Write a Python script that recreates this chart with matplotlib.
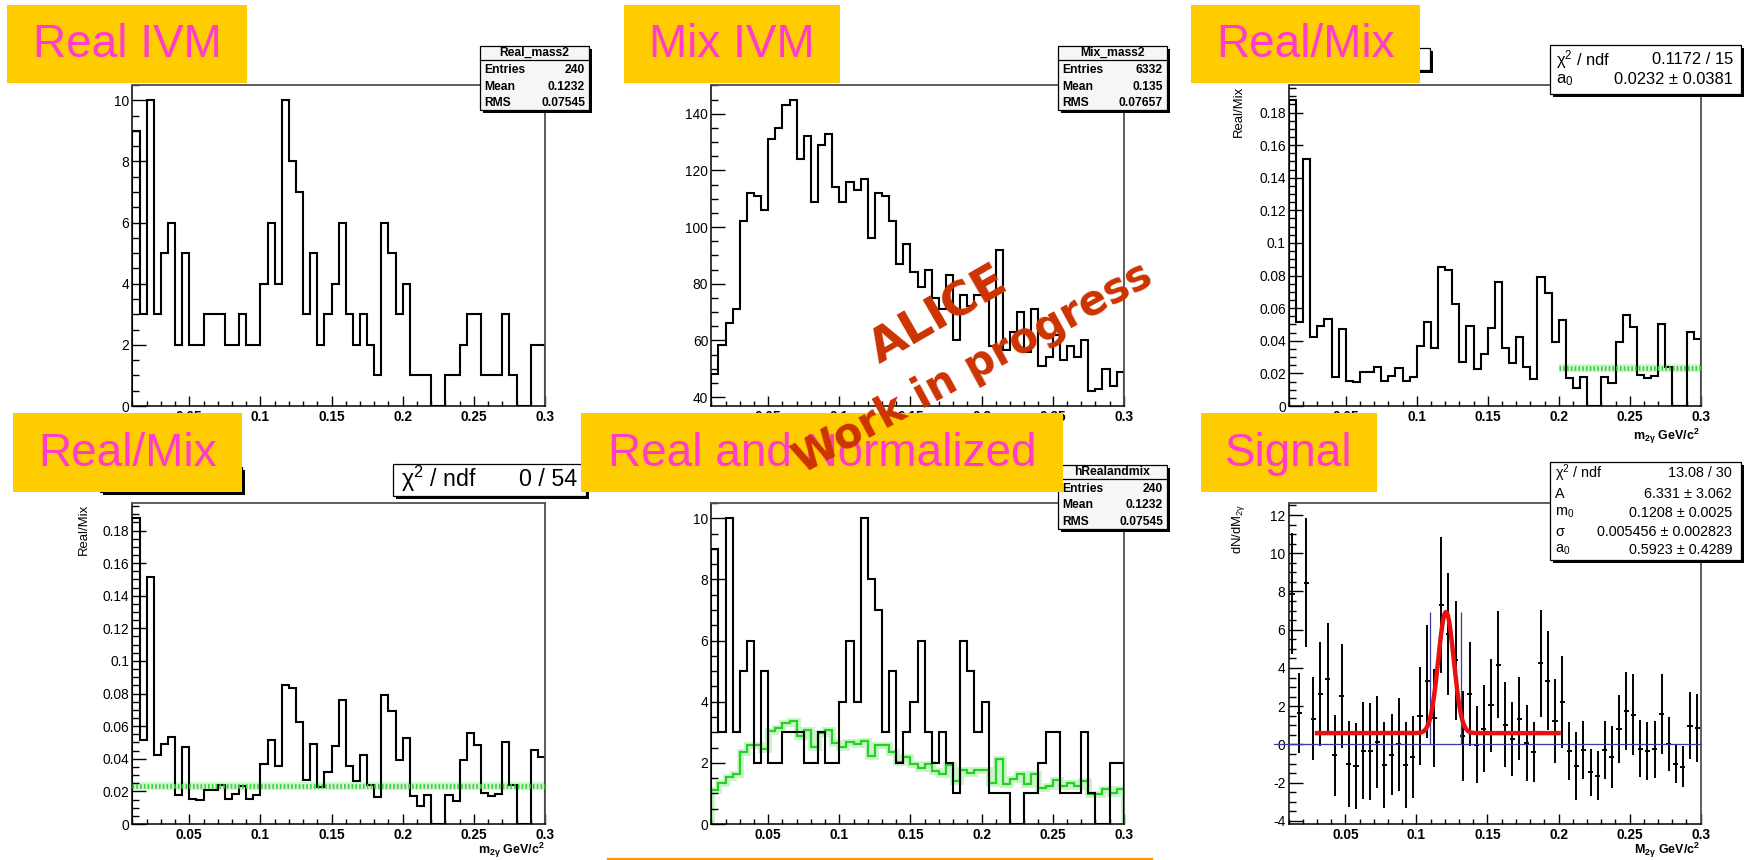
import numpy as np
import matplotlib
matplotlib.use("Agg")
import matplotlib.pyplot as plt
from matplotlib.patches import Rectangle
from matplotlib import font_manager
from matplotlib.ticker import FixedLocator, MultipleLocator, FuncFormatter

# ---------------------------------------------------------------------------
# Two-photon invariant mass, 0.005 GeV/c^2 bins starting at 0.01 GeV/c^2
# ---------------------------------------------------------------------------
bin_start = 0.01
bin_width = 0.005

real_counts = [9, 3, 10, 3, 5, 6, 2, 5, 2, 2,
               3, 3, 3, 2, 2, 3, 2, 2, 4, 6,
               4, 10, 8, 7, 3, 5, 2, 3, 4, 6,
               3, 2, 3, 2, 1, 6, 5, 3, 4, 1,
               1, 1, 0, 0, 1, 1, 2, 3, 3, 1,
               1, 1, 3, 1, 0, 0, 2, 2]

mix_counts = [48, 58.5, 66, 71, 102, 112, 111, 106, 131, 135,
              143, 145, 124, 132, 109, 129, 133, 114, 109, 116,
              113, 117, 96, 112, 111, 102, 87, 94, 84, 79,
              85, 75, 71, 83, 60, 76, 72, 76, 76, 58,
              92, 56.5, 63, 70, 56, 71, 51, 54, 62, 53,
              58, 54, 60, 42, 43, 50, 44, 49]

# histogram statistics boxes: name, entries, mean, rms
real_stats = ("Real_mass2", 240, 0.1232, 0.07545)
mix_stats = ("Mix_mass2", 6332, 0.135, 0.07657)
norm_stats = ("hRealandmix", 240, 0.1232, 0.07545)

# constant fit to Real/Mix (normalisation factor)
norm_a0, norm_a0_err = 0.0232, 0.0381
norm_chi2, norm_ndf = 0.1172, 15
norm_fit_range = (0.2, 0.3)
full_chi2, full_ndf = 0, 54

# Gaussian + constant fit of the subtracted signal
sig_chi2, sig_ndf = 13.08, 30
sig_A, sig_A_err = 6.331, 3.062
sig_m0, sig_m0_err = 0.1208, 0.0025
sig_sigma, sig_sigma_err = 0.005456, 0.002823
sig_a0, sig_a0_err = 0.5923, 0.4289
sig_fit_range = (0.03, 0.2)

panel_titles = ["Real IVM", "Mix IVM", "Real/Mix",
                "Real/Mix", "Real and Normalized", "Signal"]

# ---------------------------------------------------------------------------
real = np.array(real_counts, dtype=float)
mix = np.array(mix_counts, dtype=float)
edges = bin_start + bin_width * np.arange(len(real) + 1)
centers = 0.5 * (edges[:-1] + edges[1:])
ratio = real / mix
normalized = mix * norm_a0
signal = real - normalized
signal_err = np.sqrt(real + normalized)

# ---------------------------------------------------------------------------
available = {f.name for f in font_manager.fontManager.ttflist}
if "Liberation Sans Narrow" in available:
    ROOT_FONT, NARROW = "Liberation Sans Narrow", 1.0
else:
    ROOT_FONT, NARROW = "Liberation Sans", 0.86


def fs(pt):
    return pt * NARROW


plt.rcParams.update({
    "font.family": [ROOT_FONT, "DejaVu Sans"],
    "mathtext.fontset": "custom",
    "mathtext.rm": ROOT_FONT,
    "mathtext.it": ROOT_FONT + ":italic",
    "mathtext.bf": ROOT_FONT + ":bold",
    "mathtext.default": "regular",
    "mathtext.fallback": "stixsans",
})

W, H, DPI = 1744, 860, 100
fig = plt.figure(figsize=(W / DPI, H / DPI), dpi=DPI)
fig.patch.set_facecolor("white")


def px_axes(l, t, r, b):
    return fig.add_axes([l / W, 1 - b / H, (r - l) / W, (b - t) / H])


def tick_fmt(v, _pos):
    return f"{round(v, 6) + 0.0:g}"


x_major = [0.05, 0.1, 0.15, 0.2, 0.25, 0.3]
x_minor = np.round(np.arange(0.01, 0.3001, 0.01), 3)
TICK_SIZE = 11.5


def style_axes(ax, ylim, ymajor, yminor):
    ax.set_xlim(edges[0], edges[-1])
    ax.set_ylim(*ylim)
    ax.xaxis.set_major_locator(FixedLocator(x_major))
    ax.xaxis.set_minor_locator(FixedLocator(x_minor))
    ax.xaxis.set_major_formatter(FuncFormatter(tick_fmt))
    ax.yaxis.set_major_locator(MultipleLocator(ymajor))
    ax.yaxis.set_minor_locator(MultipleLocator(yminor))
    ax.yaxis.set_major_formatter(FuncFormatter(tick_fmt))
    ax.tick_params(axis="both", which="both", direction="in",
                   top=False, right=False, width=1.0, colors="black")
    ax.tick_params(axis="x", which="major", length=7, pad=3.0,
                   labelsize=fs(TICK_SIZE))
    ax.tick_params(axis="x", which="minor", length=3.4)
    ax.tick_params(axis="y", which="major", length=9.8, pad=2.2,
                   labelsize=fs(TICK_SIZE))
    ax.tick_params(axis="y", which="minor", length=5.2)
    for s in ("left", "bottom"):
        ax.spines[s].set_color("black")
        ax.spines[s].set_linewidth(1.1)
    for s in ("top", "right"):
        ax.spines[s].set_color("#505050")
        ax.spines[s].set_linewidth(1.3)
    for lab in ax.get_xticklabels():
        lab.set_fontweight("bold")


HIST_LW = 1.5

# --- Real IVM ---------------------------------------------------------------
ax1 = px_axes(132.4, 85, 545, 406)
ax1.stairs(real, edges, color="black", lw=HIST_LW)
style_axes(ax1, (0, 1.05 * real.max()), 2, 0.5)

# --- Mix IVM ----------------------------------------------------------------
ax2 = px_axes(711.3, 85, 1123.8, 406)
ax2.stairs(mix, edges, color="black", lw=HIST_LW)
span = mix.max() - mix.min()
style_axes(ax2, (mix.min() - 0.05 * span, mix.max() + 0.05 * span), 20, 5)

# --- Real/Mix with the fit restricted to the high-mass side -----------------
ratio_ylim = (0, 1.05 * ratio.max())


def green_dotted(ax, x0, x1, y):
    ax.plot([x0, x1], [y, y], color="#d6f5d6", lw=6, solid_capstyle="butt",
            zorder=1)
    ax.plot([x0, x1], [y, y], color="#3ccf3c", lw=3.4,
            linestyle=(0, (0.35, 0.45)), dash_capstyle="butt", zorder=3)


ax3 = px_axes(1288.9, 85, 1700.7, 406)
ax3.stairs(ratio, edges, color="black", lw=HIST_LW, zorder=2)
green_dotted(ax3, norm_fit_range[0], norm_fit_range[1], norm_a0)
style_axes(ax3, ratio_ylim, 0.02, 0.005)

# --- Real/Mix over the full range -------------------------------------------
ax4 = px_axes(132.4, 503, 545, 824)
ax4.stairs(ratio, edges, color="black", lw=HIST_LW, zorder=2)
green_dotted(ax4, edges[0], edges[-1], norm_a0)
style_axes(ax4, ratio_ylim, 0.02, 0.005)

# --- Real and normalised mixed ----------------------------------------------
ax5 = px_axes(711.3, 503, 1123.8, 824)
ax5.stairs(real, edges, color="black", lw=HIST_LW, zorder=3)
ax5.stairs(normalized, edges, color="#bff2bf", lw=5, alpha=0.8, zorder=1)
ax5.stairs(normalized, edges, color="#22d422", lw=1.6, zorder=2)
style_axes(ax5, (0, 1.05 * real.max()), 2, 0.5)

# --- Signal after subtraction -----------------------------------------------
ax6 = px_axes(1288.5, 503, 1700.7, 824)
ax6.errorbar(centers, signal, yerr=signal_err, xerr=0.0018, fmt="none",
             ecolor="black", elinewidth=1.4, capsize=0, zorder=2)
ax6.plot([0.0, edges[-1]], [0, 0], color="#3a3aa6", lw=0.9, clip_on=False,
         zorder=3)
ax6.vlines([sig_m0 - 2 * sig_sigma, sig_m0 + 2 * sig_sigma], 0,
           sig_A + sig_a0, color="#3a3aa6", lw=0.9, zorder=3)
xf = np.linspace(sig_fit_range[0], sig_fit_range[1], 500)
yf = sig_a0 + sig_A * np.exp(-0.5 * ((xf - sig_m0) / sig_sigma) ** 2)
ax6.plot(xf, yf, color="#e81010", lw=3.2, zorder=4)
lo = (signal - signal_err).min()
hi = (signal + signal_err).max()
style_axes(ax6, (lo - 0.05 * (hi - lo), hi + 0.05 * (hi - lo)), 2, 0.5)

# ---------------------------------------------------------------------------
# Overlay in pixel coordinates: titles, statistics boxes, labels, watermark
# ---------------------------------------------------------------------------
ov = fig.add_axes([0, 0, 1, 1])
ov.set_xlim(0, W)
ov.set_ylim(H, 0)
ov.axis("off")
ov.set_zorder(20)
ov.patch.set_alpha(0)


def boxed(x0, y0, x1, y1, face="white", z=2):
    ov.add_patch(Rectangle((x0 + 3, y0 + 3), x1 - x0, y1 - y0,
                           facecolor="black", edgecolor="none", zorder=z))
    ov.add_patch(Rectangle((x0, y0), x1 - x0, y1 - y0, facecolor=face,
                           edgecolor="black", lw=0.9, zorder=z + 0.1))


def stats_box(x0, y0, x1, stats):
    name, entries, mean, rms = stats
    boxed(x0, y0, x1, y0 + 64, face="#f6f6f6")
    ov.plot([x0, x1], [y0 + 14, y0 + 14], color="black", lw=0.9, zorder=2.2)
    kw = dict(fontsize=fs(10.2), fontweight="bold", va="center", zorder=2.3)
    ov.text(0.5 * (x0 + x1), y0 + 7, name, ha="center", **kw)
    rows = [("Entries", f"{entries}"), ("Mean", f"{mean:g}"),
            ("RMS", f"{rms:g}")]
    for (lab, val), dy in zip(rows, (24, 40.5, 57)):
        ov.text(x0 + 4, y0 + dy, lab, ha="left", **kw)
        ov.text(x1 - 4, y0 + dy, val, ha="right", **kw)


def fit_box(x0, y0, x1, y1, rows, ys, size, xl, xr):
    boxed(x0, y0, x1, y1)
    for (lab, val), y in zip(rows, ys):
        ov.text(xl, y, lab, ha="left", va="center", fontsize=fs(size),
                zorder=2.3)
        ov.text(xr, y, val, ha="right", va="center", fontsize=fs(size),
                zorder=2.3)


def pm(v, e):
    return f"{v:g} \u00b1 {e:g}"


chi_lab = "\u03c7$^{2}$ / ndf"

stats_box(480, 46, 589, real_stats)
stats_box(1058, 46, 1167, mix_stats)
stats_box(1058, 465, 1167, norm_stats)

# partly hidden histogram title boxes of the ratio pads
boxed(1300, 48, 1430, 70, z=1.5)
boxed(100, 467, 242, 492, z=1.5)

fit_box(1550, 45, 1741, 94,
        [(chi_lab, f"{norm_chi2:g} / {norm_ndf}"),
         ("a$_{0}$", pm(norm_a0, norm_a0_err))],
        [60, 80], 13.8, 1556, 1733)
fit_box(393, 464, 586, 496,
        [(chi_lab, f"{full_chi2:g} / {full_ndf}")],
        [479], 19.5, 401, 577)
fit_box(1550, 462, 1741, 560,
        [(chi_lab, f"{sig_chi2:g} / {sig_ndf}"),
         ("A", pm(sig_A, sig_A_err)),
         ("m$_{0}$", pm(sig_m0, sig_m0_err)),
         ("\u03c3", pm(sig_sigma, sig_sigma_err)),
         ("a$_{0}$", pm(sig_a0, sig_a0_err))],
        [473, 494, 513, 532, 550], 12, 1555, 1732)

# axis titles
ylab_kw = dict(rotation=90, ha="center", va="top", fontsize=fs(11), zorder=2)
ov.text(1239, 86, "Real/Mix", **ylab_kw)
ov.text(84, 504, "Real/Mix", **ylab_kw)
ov.text(1238, 504, "dN/dM$_{2\u03b3}$", **ylab_kw)
xlab_kw = dict(ha="right", va="center", fontsize=fs(10.5), fontweight="bold",
               zorder=2)
ov.text(1700, 436, "m$_{2\u03b3}$ GeV/c$^{2}$", **xlab_kw)
ov.text(545, 850, "m$_{2\u03b3}$ GeV/c$^{2}$", **xlab_kw)
ov.text(1700, 850, "M$_{2\u03b3}$ GeV/c$^{2}$", **xlab_kw)

# yellow title labels
title_boxes = [(7, 5, 247, 83), (624, 5, 840, 83), (1191, 5, 1420, 83),
               (13, 413, 242, 492), (581, 413, 1063, 492),
               (1201, 413, 1377, 492)]
for (x0, y0, x1, y1), title in zip(title_boxes, panel_titles):
    ov.add_patch(Rectangle((x0, y0), x1 - x0, y1 - y0, facecolor="#ffcc00",
                           edgecolor="none", zorder=3))
    ov.text(0.5 * (x0 + x1), 0.5 * (y0 + y1) + 1, title, ha="center",
            va="center", fontsize=33, color="#ff3ccc",
            family=["Liberation Sans", "DejaVu Sans"], zorder=3.1)

ov.plot([608, 1152], [858.5, 858.5], color="#ff9900", lw=1.6, zorder=3)

# watermark
wm_kw = dict(ha="center", va="center", color="#cc3300", fontweight="bold",
             family=["DejaVu Sans"], rotation_mode="anchor", zorder=5)
ov.text(939, 316, "ALICE", fontsize=34, rotation=30, **wm_kw)
ov.text(973, 368, "Work in progress", fontsize=30, rotation=28.5, **wm_kw)

fig.savefig("out.png", dpi=DPI)
